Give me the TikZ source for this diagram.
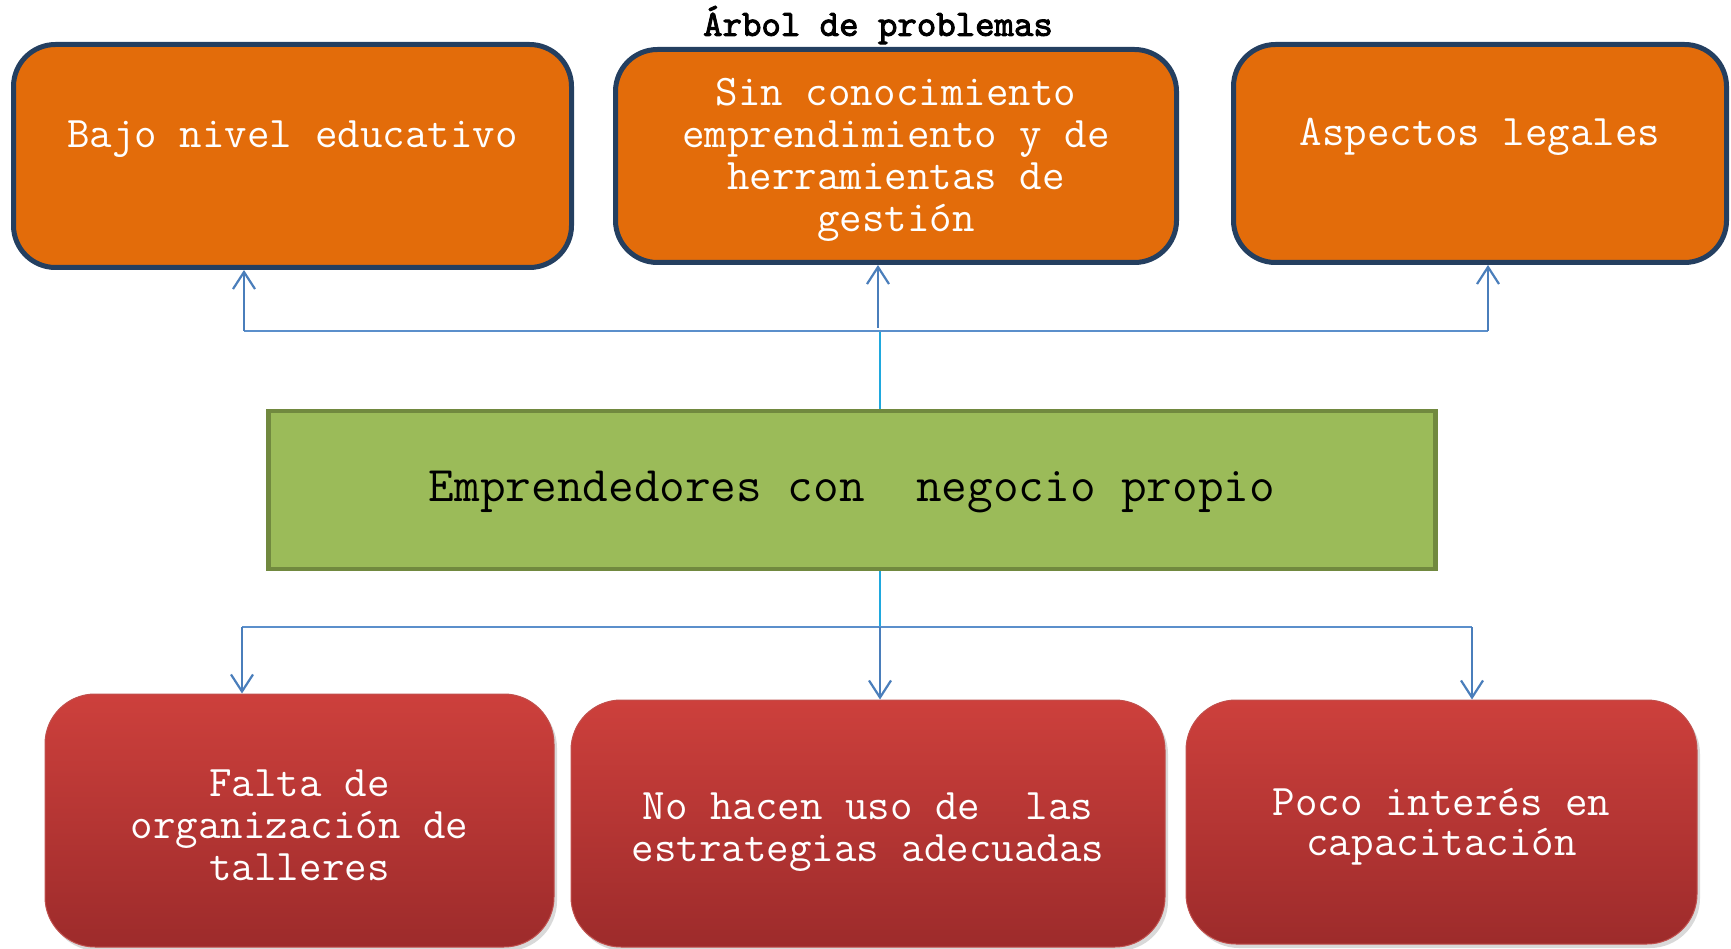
\documentclass[tikz,border=0pt]{standalone}
\usepackage{fontspec}
\newfontfamily\titlefont[FakeBold=2.5]{lmmono10-regular.otf}
\usetikzlibrary{arrows.meta,shadows}
\definecolor{orfill}{HTML}{E36C0A}
\definecolor{orline}{HTML}{243F60}
\definecolor{grfill}{HTML}{9BBB59}
\definecolor{grline}{HTML}{71893F}
\definecolor{rdtop}{HTML}{CD403C}
\definecolor{rdbot}{HTML}{9D2B2B}
\definecolor{rdline}{HTML}{C0504D}
\definecolor{conn}{HTML}{4A7EBB}
\definecolor{hconn}{HTML}{5B8FCB}
\definecolor{cyanline}{HTML}{1FA8DE}
\newcommand{\shtext}[2]{\raisebox{-#1pt}[\height][\depth]{\begin{tabular}{@{}c@{}}#2\end{tabular}}}
\begin{document}
\begin{tikzpicture}[x=1pt,y=-1pt,
  every node/.style={inner sep=0pt, align=center},
  topbox/.style={draw=orline, line width=5pt, fill=orfill, rounded corners=42pt,
    text=white, font=\ttfamily\fontsize{43.7}{42}\selectfont},
  midbox/.style={draw=grline, line width=4.5pt, fill=grfill,
    text=black, font=\ttfamily\fontsize{49.8}{48}\selectfont},
  botbox/.style={draw=rdline, line width=1pt, top color=rdtop, bottom color=rdbot,
    rounded corners=50pt, text=white, font=\ttfamily\fontsize{43.7}{42}\selectfont,
    drop shadow={shadow xshift=3pt, shadow yshift=-4pt, opacity=0.3}},
  arr/.style={draw=conn, line width=2.2pt, -{Straight Barb[length=17pt,width=22pt,line width=2.2pt]}},
  hline/.style={draw=hconn, line width=2pt},
  cline/.style={draw=cyanline, line width=1.6pt}
]
\useasboundingbox (0,0) rectangle (1731,949);

\node[font=\titlefont\fontsize{37}{40}\selectfont] (title) at (878,25) {Árbol de problemas};

\node[topbox, minimum width=558pt, minimum height=223pt] (t1) at (292.5,156) {\shtext{4.4}{Bajo nivel educativo\\ \mbox{}}};
\node[topbox, minimum width=561pt, minimum height=213pt] (t2) at (896,156) {\shtext{4.4}{Sin conocimiento\\emprendimiento y de\\herramientas de\\gestión}};
\node[topbox, minimum width=493pt, minimum height=218pt] (t3) at (1480,153.5) {\shtext{4.4}{Aspectos legales\\ \mbox{}}};

\node[midbox, minimum width=1167pt, minimum height=158pt] (g) at (852,490) {\shtext{2.2}{Emprendedores con\ \ negocio propio}};

\node[botbox, minimum width=509pt, minimum height=253pt] (c1) at (299.5,820.5) {\shtext{9.4}{Falta de\\organización de\\talleres}};
\node[botbox, minimum width=594pt, minimum height=247pt] (c2) at (868,823.5) {\shtext{8.3}{No hacen uso de\ \ las\\estrategias adecuadas}};
\node[botbox, minimum width=511pt, minimum height=244pt] (c3) at (1441.5,822) {\shtext{5}{Poco interés en\\[-2.3pt]capacitación}};

% upper connectors
\coordinate (tl) at (244,331);
\coordinate (tr) at (1488,331);
\coordinate (tm) at (878,328);
\coordinate (tj) at (880,331);
\draw[cline] (tj |- g.north) -- (tj);
\draw[hline] (tl) -- (tr);
\draw[arr] (tl) -- (tl |- t1.south);
\draw[arr] (tm) -- (tm |- t2.south);
\draw[arr] (tr) -- (tr |- t3.south);

% lower connectors
\coordinate (bl) at (242,627);
\coordinate (br) at (1472,627);
\coordinate (bm) at (880,627);
\draw[cline] (bm |- g.south) -- (bm);
\draw[hline] (bl) -- (br);
\draw[arr] (bl) -- (bl |- c1.north);
\draw[arr] (bm) -- (bm |- c2.north);
\draw[arr] (br) -- (br |- c3.north);
\end{tikzpicture}
\end{document}
